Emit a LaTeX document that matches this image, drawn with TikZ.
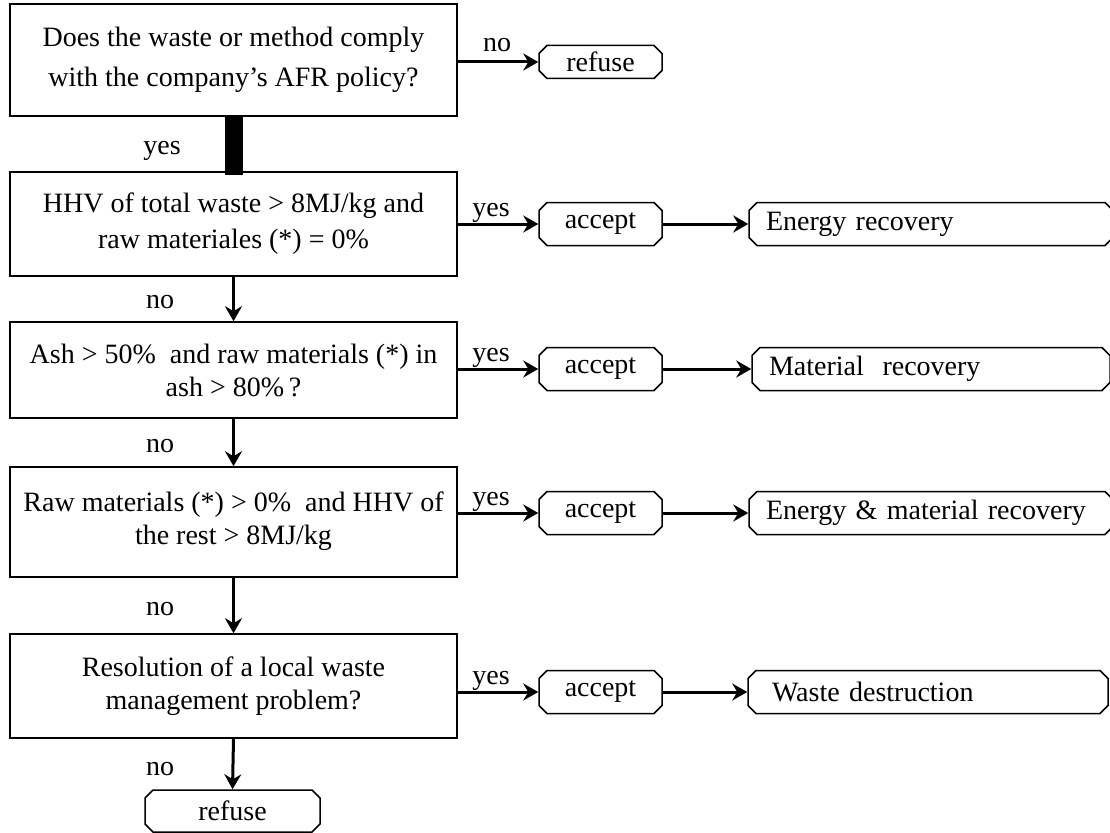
\documentclass[tikz,border=0pt]{standalone}
\usepackage{fontspec}
\setmainfont{Liberation Serif}
\usetikzlibrary{arrows.meta,shapes.misc}
\tikzset{
  dec/.style={draw, line width=1.6pt, inner sep=0pt, align=center, font=\fontsize{28}{33}\selectfont},
  chbox/.style={draw, chamfered rectangle, chamfered rectangle xsep=4pt, chamfered rectangle ysep=4pt,
    line width=1.5pt, inner sep=0pt, minimum height=43pt, font=\fontsize{28}{30}\selectfont},
  outbox/.style={chbox, inner xsep=13pt, align=left},
  arr/.style={line width=3pt, -{Stealth[length=15pt,width=17pt,inset=5pt]}},
  lbl/.style={inner sep=0pt, anchor=base, font=\fontsize{28}{30}\selectfont}
}
\begin{document}
\begin{tikzpicture}[x=1pt,y=-1pt]
\useasboundingbox (0,0) rectangle (1110,832);
% decision boxes
\node[dec, minimum width=447pt, minimum height=112pt, font=\fontsize{28}{40}\selectfont] (q1) at (233.5,60) {Does the waste or method comply\\with the company's AFR policy?};
\node[dec, minimum width=447pt, minimum height=104pt, font=\fontsize{28}{36}\selectfont] (q2) at (233.5,224) {HHV of total waste > 8MJ/kg and\\raw materiales (*) = 0\%};
\node[dec, minimum width=447pt, minimum height=96pt] (q3) at (233.5,370) {Ash > 50\%\ \ and raw materials (*) in\\ash > 80\%\,?};
\node[dec, minimum width=447pt, minimum height=110pt] (q4) at (233.5,522) {\raisebox{8pt}{\shortstack{Raw materials (*) > 0\%\ \ and HHV of\\[4pt]the rest > 8MJ/kg}}};
\node[dec, minimum width=447pt, minimum height=104pt] (q5) at (233.5,686) {Resolution of a local waste\\management problem?};
% refuse boxes
\node[chbox, minimum width=123pt, minimum height=33pt] (r1) at (600.5,62) {refuse};
\node[chbox, minimum width=175pt, minimum height=42pt] (r2) at (232.5,811) {refuse};
% accept boxes
\node[chbox, minimum width=123pt] (a2) at (600.5,224) {accept};
\node[chbox, minimum width=123pt] (a3) at (600.5,369) {accept};
\node[chbox, minimum width=123pt] (a4) at (600.5,513) {accept};
\node[chbox, minimum width=123pt] (a5) at (600.5,692) {accept};
% outcome boxes
\node[outbox, text width=330pt] (o2) at (931,224) {Energy recovery};
\node[outbox, text width=330pt, inner xsep=10pt] (o3) at (931,369) {\hspace*{3pt}Material\ \ recovery};
\node[outbox, text width=330pt] (o4) at (931,513) {Energy \& material recovery};
\node[outbox, text width=320pt, inner xsep=16pt] (o5) at (928,692) {\hspace*{4pt}Waste destruction};
% bar between q1 and q2
\draw[line width=18pt, shorten >=-4pt] (q1.south) -- (q2.north);
% vertical arrows
\draw[arr] (q2.south) -- (q3.north);
\draw[arr] (q3.south) -- (q4.north);
\draw[arr] (q4.south) -- (q5.north);
\draw[arr] (q5.south) -- (r2.north);
% horizontal arrows
\draw[arr] (q1.east |- r1.west) -- (r1.west);
\draw[arr] (q2.east |- a2.west) -- (a2.west);
\draw[arr] (q3.east |- a3.west) -- (a3.west);
\draw[arr] (q4.east |- a4.west) -- (a4.west);
\draw[arr] (q5.east |- a5.west) -- (a5.west);
\draw[arr] (a2.east) -- (o2.west);
\draw[arr] (a3.east) -- (o3.west);
\draw[arr] (a4.east) -- (o4.west);
\draw[arr] (a5.east) -- (o5.west);
% labels
\node[lbl] (l1) at (497,52) {no};
\node[lbl] (l2) at (162,154) {yes};
\node[lbl] (l3) at (491,216) {yes};
\node[lbl] (l4) at (160,308) {no};
\node[lbl] (l5) at (491,361) {yes};
\node[lbl] (l6) at (160,452) {no};
\node[lbl] (l7) at (491,505) {yes};
\node[lbl] (l8) at (160,615) {no};
\node[lbl] (l9) at (491,684) {yes};
\node[lbl] (l10) at (160,775) {no};
\end{tikzpicture}
\end{document}
